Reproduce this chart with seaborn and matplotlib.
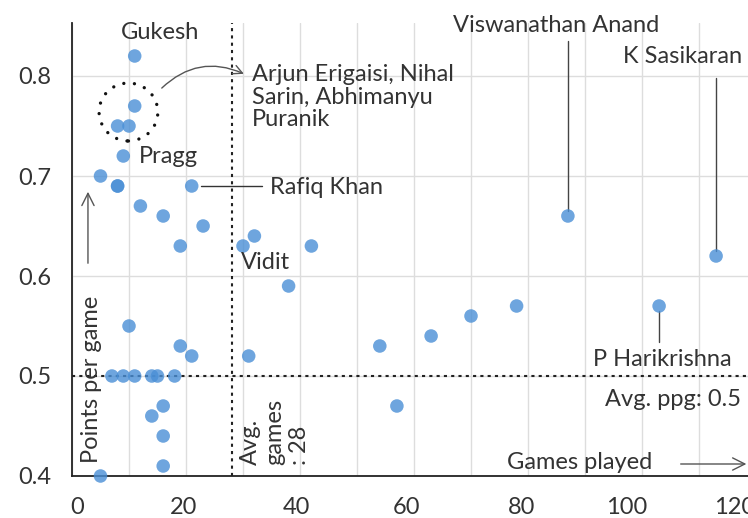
import seaborn as sns
import numpy as np
import matplotlib.pyplot as plt
import pandas as pd
from matplotlib.patches import Ellipse
from matplotlib.transforms import ScaledTranslation

# games played vs points per game
games = [11, 11, 8, 10, 9, 5, 8, 8, 21, 12, 16, 23, 19, 30, 32, 42, 38,
         10, 19, 21, 31, 7, 9, 11, 14, 15, 18, 16, 14, 16, 16, 5,
         54, 57, 63, 70, 78, 87, 103, 113]
ppg = [0.82, 0.77, 0.75, 0.75, 0.72, 0.70, 0.69, 0.69, 0.69, 0.67, 0.66, 0.65, 0.63, 0.63, 0.64, 0.63, 0.59,
       0.55, 0.53, 0.52, 0.52, 0.50, 0.50, 0.50, 0.50, 0.50, 0.50, 0.47, 0.46, 0.44, 0.41, 0.40,
       0.53, 0.47, 0.54, 0.56, 0.57, 0.66, 0.57, 0.62]
avg_games = 28
avg_ppg = 0.5
x_ticks = list(range(0, 121, 10))
x_labels = [str(t) if t % 20 == 0 else "" for t in x_ticks]
y_ticks = [0.4, 0.5, 0.6, 0.7, 0.8]

df = pd.DataFrame({'games': games, 'ppg': ppg})

sns.set_style("white")
plt.rcParams['font.family'] = ['Lato', 'DejaVu Sans']
txt = '#333333'
fs = 17

fig = plt.figure(figsize=(7.48, 5.18), dpi=100)
ax = fig.add_axes([72 / 748, 42 / 518, 684 / 748, 453 / 518])

ax.set_xlim(0, 120)
ax.set_ylim(0.4, 0.853)
ax.set_xticks(x_ticks)
ax.set_xticklabels(x_labels)
ax.set_yticks(y_ticks)
ax.set_yticklabels([f"{v:.1f}" for v in y_ticks])
ax.grid(True, color='#dddddd', linewidth=1)
ax.set_axisbelow(True)
for s in ['top', 'right']:
    ax.spines[s].set_visible(False)
for s in ['left', 'bottom']:
    ax.spines[s].set_color('#222222')
    ax.spines[s].set_linewidth(1.3)
ax.tick_params(axis='both', length=11, width=1, color='#444444', labelsize=fs, labelcolor=txt, pad=4)

# the x labels in the original sit a little left of their ticks
shift = {0: 5, 20: -2, 40: -4, 60: -8, 80: -6, 100: -15, 120: -21}
for t, lab in zip(x_ticks, ax.get_xticklabels()):
    if t in shift:
        lab.set_transform(lab.get_transform() + ScaledTranslation(shift[t] / 100, 0, fig.dpi_scale_trans))

# average lines
ax.axvline(avg_games, color='#222222', linestyle=(0, (1.5, 2)), linewidth=1.5, zorder=1)
ax.axhline(avg_ppg, color='#222222', linestyle=(0, (1.5, 2)), linewidth=1.5, zorder=1)

sns.scatterplot(data=df, x='games', y='ppg', ax=ax, s=95, color='#4a8fd6',
                alpha=0.8, edgecolor='none', zorder=3, clip_on=False)
ax.set_xlabel('')
ax.set_ylabel('')

# cluster circle
ax.add_patch(Ellipse((9.9, 0.764), 10.3, 0.058, fill=False, edgecolor='#111111',
                     linestyle=(0, (0.01, 3.2)), capstyle='round', linewidth=2.4, zorder=4))

ax.annotate('', xy=(30.6, 0.801), xytext=(15.4, 0.786),
            arrowprops=dict(arrowstyle='->', color='#555555', lw=1,
                            connectionstyle='arc3,rad=-0.35', mutation_scale=16))

ax.text(15.4, 0.843, 'Gukesh', ha='center', va='center', fontsize=fs, color=txt)
ax.text(31.6, 0.812, 'Arjun Erigaisi, Nihal\nSarin, Abhimanyu\nPuranik', ha='left', va='top',
        fontsize=fs, color=txt, linespacing=1.1)
ax.text(11.8, 0.72, 'Pragg', ha='left', va='center', fontsize=fs, color=txt)
ax.plot([22.6, 33.4], [0.69, 0.69], color='#333333', lw=1)
ax.text(34.7, 0.689, 'Rafiq Khan', ha='left', va='center', fontsize=fs, color=txt)
ax.text(29.6, 0.613, 'Vidit', ha='left', va='center', fontsize=fs, color=txt)

ax.plot([87, 87], [0.665, 0.835], color='#444444', lw=1)
ax.text(66.8, 0.85, 'Viswanathan Anand', ha='left', va='center', fontsize=fs, color=txt, clip_on=False)
ax.plot([113, 113], [0.625, 0.798], color='#444444', lw=1)
ax.text(96.7, 0.82, 'K Sasikaran', ha='left', va='center', fontsize=fs, color=txt)
ax.plot([103, 103], [0.534, 0.565], color='#444444', lw=1)
ax.text(103.5, 0.516, 'P Harikrishna', ha='center', va='center', fontsize=fs, color=txt)
ax.text(117.3, 0.476, 'Avg. ppg: 0.5', ha='right', va='center', fontsize=fs, color=txt)

ax.text(76.3, 0.414, 'Games played', ha='left', va='center', fontsize=fs, color=txt)
ax.annotate('', xy=(118.8, 0.412), xytext=(106.3, 0.412),
            arrowprops=dict(arrowstyle='->', color='#555555', lw=1, mutation_scale=22))
ax.text(29.5, 0.411, 'Avg.\ngames\n: 28', rotation=90, ha='left', va='bottom',
        multialignment='left', fontsize=fs, color=txt, linespacing=1.2)
ax.text(3.5, 0.413, 'Points per game', rotation=90, ha='center', va='bottom', fontsize=fs, color=txt)
ax.annotate('', xy=(2.8, 0.687), xytext=(2.8, 0.61),
            arrowprops=dict(arrowstyle='->', color='#555555', lw=1, mutation_scale=22))

fig.savefig('out.png', dpi=100)
